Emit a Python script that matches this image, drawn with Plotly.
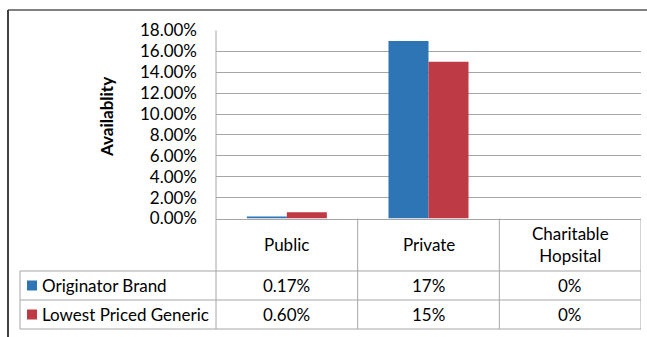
import plotly.graph_objects as go

# ---- data ----
categories = ["Public", "Private", "Charitable<br>Hopsital"]
series_names = ["Originator Brand", "Lowest Priced Generic"]
originator = [0.0017, 0.17, 0.0]
generic = [0.0060, 0.15, 0.0]
originator_labels = ["0.17%", "17%", "0%"]
generic_labels = ["0.60%", "15%", "0%"]
y_tick_vals = [0, 0.02, 0.04, 0.06, 0.08, 0.10, 0.12, 0.14, 0.16, 0.18]
y_title = "Availablity"

colors = ["#2E75B6", "#BE3A44"]
W, H = 647, 337
FONT = "Lato"
GRID = "#A6A6A6"

def px(x):
    return x / W

def py(y):
    return 1 - y / H

plot_left, plot_right = 216, 641
plot_top, plot_bottom = 30.5, 218.5
row1_top, row2_top, table_bottom = 271, 300, 329
legend_left = 20

fig = go.Figure()
for name, vals, col in zip(series_names, [originator, generic], colors):
    fig.add_trace(go.Bar(x=categories, y=vals, name=name, marker=dict(color=col, line=dict(width=0)),
                         showlegend=False, hoverinfo="skip"))

shapes = []
line = dict(color=GRID, width=1)
# outer frame
shapes.append(dict(type="line", xref="paper", yref="paper", x0=px(8), x1=1, y0=py(10), y1=py(10),
                   line=dict(color="#808080", width=2)))
shapes.append(dict(type="line", xref="paper", yref="paper", x0=px(8), x1=px(8), y0=py(10), y1=0,
                   line=dict(color="#404040", width=2)))
# left line of plot down through table
shapes.append(dict(type="line", xref="paper", yref="paper", x0=px(plot_left), x1=px(plot_left),
                   y0=py(plot_top), y1=py(table_bottom), line=line))
# vertical separators at category boundaries
for b in [0.5, 1.5, 2.5]:
    shapes.append(dict(type="line", xref="x", yref="paper", x0=b, x1=b,
                       y0=py(plot_bottom), y1=py(table_bottom), line=line))
# horizontal table lines
for yy in [row1_top, row2_top, table_bottom]:
    shapes.append(dict(type="line", xref="paper", yref="paper", x0=px(legend_left), x1=px(plot_right),
                       y0=py(yy), y1=py(yy), line=line))
shapes.append(dict(type="line", xref="paper", yref="paper", x0=px(legend_left), x1=px(legend_left),
                   y0=py(row1_top), y1=py(table_bottom), line=line))

annotations = []
tf = dict(family=FONT, size=17, color="#000000")
# header
for c in categories:
    annotations.append(dict(xref="x", yref="paper", x=c, y=py((plot_bottom + row1_top) / 2), text=c,
                            showarrow=False, font=tf, xanchor="center", yanchor="middle"))
# rows
for (r_top, r_bot), name, labels, col in zip([(row1_top, row2_top), (row2_top, table_bottom)],
                                             series_names, [originator_labels, generic_labels], colors):
    ymid = py((r_top + r_bot) / 2)
    shapes.append(dict(type="rect", xref="paper", yref="paper", x0=px(27), x1=px(37),
                       y0=ymid - 5 / H, y1=ymid + 5 / H, fillcolor=col, line=dict(width=0)))
    annotations.append(dict(xref="paper", yref="paper", x=px(40), y=ymid, text=name, showarrow=False,
                            font=tf, xanchor="left", yanchor="middle"))
    for c, lab in zip(categories, labels):
        annotations.append(dict(xref="x", yref="paper", x=c, y=ymid, text=lab, showarrow=False,
                                font=tf, xanchor="center", yanchor="middle"))
# y title
annotations.append(dict(xref="paper", yref="paper", x=px(106), y=py(117), text="<b>%s</b>" % y_title,
                        textangle=-90, showarrow=False, font=dict(family=FONT, size=17, color="#000"),
                        xanchor="center", yanchor="middle"))

fig.update_layout(
    width=W, height=H, margin=dict(l=0, r=0, t=0, b=0, pad=0, autoexpand=False),
    paper_bgcolor="white", plot_bgcolor="white",
    barmode="group", bargap=0.435, bargroupgap=0,
    font=dict(family=FONT, size=17, color="#000"),
    xaxis=dict(domain=[px(plot_left), px(plot_right)], showticklabels=False, showgrid=False,
               showline=True, linecolor=GRID, linewidth=1, ticks="", zeroline=False,
               range=[-0.5, 2.5], fixedrange=True, automargin=False),
    yaxis=dict(domain=[py(plot_bottom), py(plot_top)], range=[0, 0.18], tickvals=y_tick_vals,
               tickformat=".2%", showgrid=True, gridcolor=GRID, gridwidth=1, zeroline=False,
               showline=False, ticks="", ticklabelstandoff=18, automargin=False,
               tickfont=dict(family=FONT, size=17, color="#000")),
    shapes=shapes, annotations=annotations,
)

fig.write_html("out.html")
